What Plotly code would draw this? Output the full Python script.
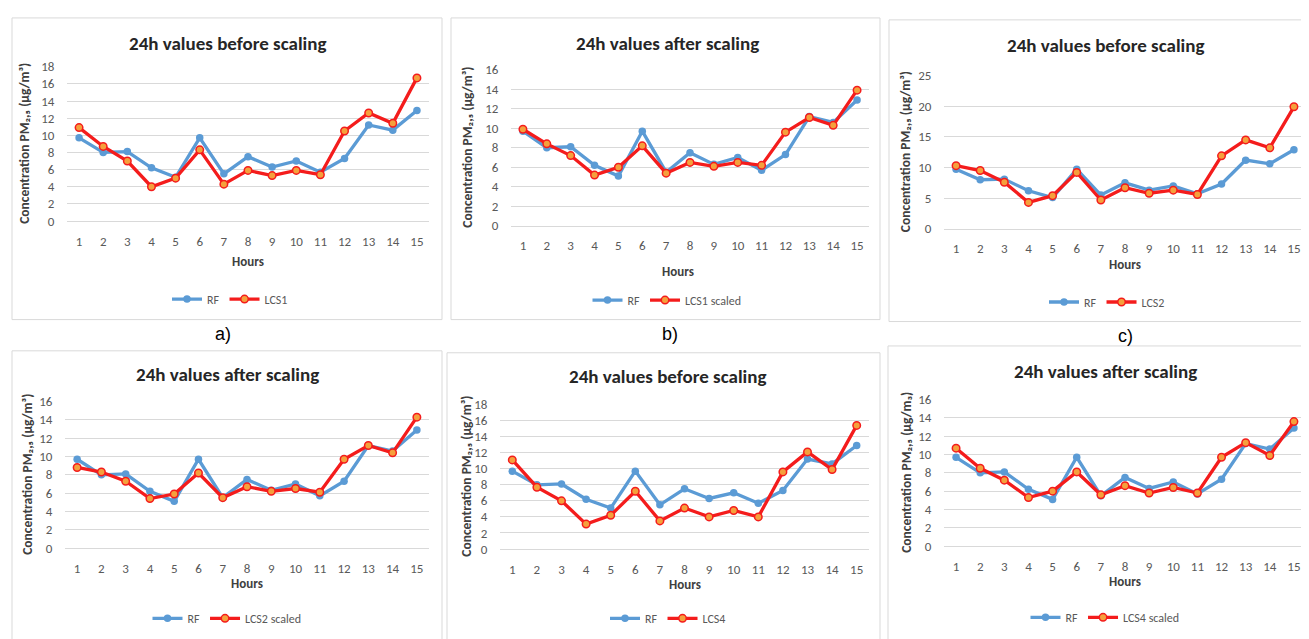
import plotly.graph_objects as go

# Page body has an 8px margin: the figure is drawn from (8, 8) of the window.
OFF = 8
W, H = 1309 - OFF, 639 - OFF

# ---------------- data ----------------
hours = list(range(1, 16))
rf = [9.7, 8.0, 8.1, 6.2, 5.1, 9.7, 5.5, 7.5, 6.3, 7.0, 5.7, 7.3, 11.2, 10.6, 12.9]
lcs1 = [10.9, 8.7, 7.0, 4.0, 5.0, 8.3, 4.3, 5.9, 5.3, 5.9, 5.4, 10.5, 12.6, 11.4, 16.7]
lcs1_scaled = [9.9, 8.4, 7.2, 5.2, 6.0, 8.2, 5.4, 6.5, 6.1, 6.5, 6.2, 9.6, 11.1, 10.3, 13.9]
lcs2 = [10.3, 9.5, 7.6, 4.3, 5.4, 9.2, 4.7, 6.7, 5.8, 6.3, 5.6, 11.9, 14.5, 13.2, 19.9]
lcs2_scaled = [8.8, 8.3, 7.3, 5.4, 5.9, 8.2, 5.5, 6.7, 6.2, 6.5, 6.1, 9.7, 11.2, 10.4, 14.3]
lcs4 = [11.1, 7.7, 6.0, 3.1, 4.2, 7.2, 3.5, 5.1, 4.0, 4.8, 4.0, 9.6, 12.1, 9.9, 15.4]
lcs4_scaled = [10.7, 8.5, 7.2, 5.3, 6.0, 8.1, 5.6, 6.6, 5.8, 6.4, 5.8, 9.7, 11.3, 9.9, 13.6]

series = [lcs1, lcs1_scaled, lcs2, lcs2_scaled, lcs4, lcs4_scaled]
series_names = ["LCS1", "LCS1 scaled", "LCS2", "LCS2 scaled", "LCS4", "LCS4 scaled"]
titles = ["24h values before scaling", "24h values after scaling",
          "24h values before scaling", "24h values after scaling",
          "24h values before scaling", "24h values after scaling"]
y_max = [18, 16, 25, 16, 18, 16]
y_step = [2, 2, 5, 2, 2, 2]
y_titles = ["Concentration PM₂,₅ (µg/m³)"] * 5 + ["Concentration PM₂,₅ (µg/m₃)"]
x_title = "Hours"
panel_letters = ["a)", "b)", "c)"]

# ---------------- layout (window pixels) ----------------
panels = [
    dict(box=(12, 11, 442, 320), x0=67, x1=429, yb=219, yt=61, tx=227, ty=37, ytx=25, htx=248, hty=260, lx=230, ly=299),
    dict(box=(451, 11, 880, 320), x0=511, x1=869, yb=224, yt=64, tx=667, ty=37, ytx=468, htx=678, hty=271, lx=667, ly=300),
    dict(box=(889, 13, 1315, 322), x0=944, x1=1306, yb=227, yt=70, tx=1105, ty=39, ytx=905, htx=1125, hty=264, lx=1107, ly=302),
    dict(box=(12, 352, 442, 650), x0=65, x1=429, yb=554, yt=404, tx=227, ty=376, ytx=28, htx=247, hty=590, lx=227, ly=626),
    dict(box=(447, 354, 880, 650), x0=500, x1=869, yb=555, yt=407, tx=667, ty=378, ytx=467, htx=685, hty=591, lx=668, ly=626),
    dict(box=(888, 347, 1315, 650), x0=944, x1=1306, yb=552, yt=402, tx=1105, ty=373, ytx=907, htx=1125, hty=588, lx=1105, ly=625),
]
letter_pos = [(223, 335), (670, 335), (1125, 337)]


def px(x):
    return (x - OFF) / W


def py(y):
    return 1 - (y - OFF) / H


FONT = "Carlito, 'Liberation Sans Narrow', Lato, sans-serif"
BLUE = "#5b9bd5"
RED = "#f41c1c"
ORANGE = "#f5a03c"
GRID = "#d9d9d9"
TICK = "#595959"

fig = go.Figure()
layout = dict(
    width=W, height=H, margin=dict(l=0, r=0, t=0, b=0),
    paper_bgcolor="white", plot_bgcolor="white",
    showlegend=True, shapes=[], annotations=[],
    font=dict(family=FONT, color=TICK),
)

for i, p in enumerate(panels):
    k = "" if i == 0 else str(i + 1)
    xa, ya = "x" + k, "y" + k
    leg = "legend" + k
    fig.add_trace(go.Scatter(
        x=hours, y=rf, name="RF", mode="lines+markers", xaxis=xa, yaxis=ya,
        legend=leg, cliponaxis=False,
        line=dict(color=BLUE, width=3.3),
        marker=dict(color=BLUE, size=7.5, symbol="circle")))
    fig.add_trace(go.Scatter(
        x=hours, y=series[i], name=series_names[i], mode="lines+markers",
        xaxis=xa, yaxis=ya, legend=leg, cliponaxis=False,
        line=dict(color=RED, width=3.3),
        marker=dict(color=ORANGE, size=7.5, symbol="circle",
                    line=dict(color=RED, width=1.5))))

    layout["xaxis" + k] = dict(
        domain=[px(p["x0"]), min(1.0, px(p["x1"]))], anchor=ya, range=[0.5, 15.5],
        tickmode="array", tickvals=hours, ticktext=[str(h) for h in hours],
        showgrid=False, zeroline=False, showline=True, linecolor=GRID, linewidth=1,
        ticks="outside", ticklen=8, tickcolor="rgba(0,0,0,0)",
        tickfont=dict(family=FONT, size=13, color=TICK), fixedrange=True)
    layout["yaxis" + k] = dict(
        domain=[py(p["yb"]), py(p["yt"])], anchor=xa, range=[0, y_max[i]],
        tickmode="linear", tick0=0, dtick=y_step[i],
        showgrid=True, gridcolor=GRID, gridwidth=1, zeroline=False, showline=False,
        ticks="outside", ticklen=9, tickcolor="rgba(0,0,0,0)",
        tickfont=dict(family=FONT, size=13, color=TICK), fixedrange=True)
    layout[leg] = dict(
        orientation="h", x=px(p["lx"]), y=py(p["ly"]), xanchor="center", yanchor="middle",
        bgcolor="rgba(0,0,0,0)", font=dict(family=FONT, size=12, color=TICK),
        itemwidth=30, tracegroupgap=0, itemclick=False, itemdoubleclick=False)

    b = p["box"]
    layout["shapes"].append(dict(
        type="rect", xref="paper", yref="paper",
        x0=px(b[0]), x1=px(b[2]), y0=py(b[3]), y1=py(b[1]),
        line=dict(color=GRID, width=1), fillcolor="rgba(0,0,0,0)", layer="below"))

    layout["annotations"].append(dict(
        text="<b>" + titles[i] + "</b>", x=px(p["tx"]), y=py(p["ty"]),
        xref="paper", yref="paper", xanchor="center", yanchor="middle", showarrow=False,
        font=dict(family=FONT, size=19, color="#262626")))
    layout["annotations"].append(dict(
        text="<b>" + y_titles[i] + "</b>", x=px(p["ytx"]), y=py((p["yb"] + p["yt"]) / 2),
        xref="paper", yref="paper", xanchor="center", yanchor="middle", showarrow=False,
        textangle=-90, font=dict(family=FONT, size=13.5, color="#404040")))
    layout["annotations"].append(dict(
        text="<b>" + x_title + "</b>", x=px(p["htx"]), y=py(p["hty"]),
        xref="paper", yref="paper", xanchor="center", yanchor="middle", showarrow=False,
        font=dict(family=FONT, size=13, color="#404040")))

for letter, (lx, ly) in zip(panel_letters, letter_pos):
    layout["annotations"].append(dict(
        text=letter, x=px(lx), y=py(ly), xref="paper", yref="paper",
        xanchor="center", yanchor="middle", showarrow=False,
        font=dict(family="Arial, 'Liberation Sans', sans-serif", size=18, color="#000000")))

fig.update_layout(**layout)
fig.write_html("out.html")
